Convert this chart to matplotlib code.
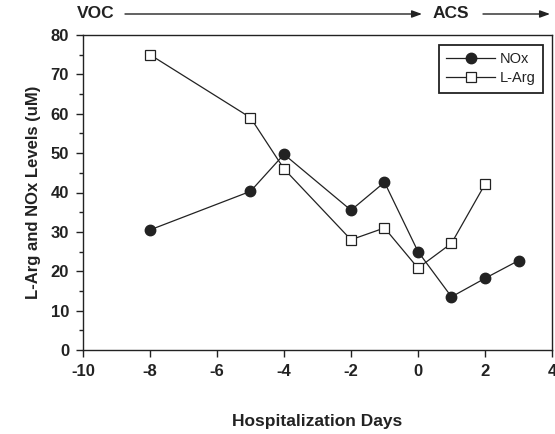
import matplotlib
matplotlib.use("Agg")
import matplotlib.pyplot as plt
from matplotlib.ticker import MultipleLocator

plt.rcParams['font.family'] = ['Liberation Sans', 'DejaVu Sans']
plt.rcParams['axes.unicode_minus'] = False

days_nox = [-8, -5, -4, -2, -1, 0, 1, 2, 3]
nox = [30.5, 40.3, 49.7, 35.5, 42.6, 25.0, 13.5, 18.2, 22.7]
days_larg = [-8, -5, -4, -2, -1, 0, 1, 2]
larg = [75.0, 59.0, 46.0, 28.0, 31.0, 20.8, 27.1, 42.1]

xticks = [-10, -8, -6, -4, -2, 0, 2, 4]
yticks = [0, 10, 20, 30, 40, 50, 60, 70, 80]

ink = '#222222'
W, H = 555, 434
fig = plt.figure(figsize=(W / 100, H / 100), dpi=100)
ax = fig.add_axes([83 / W, 1 - 350 / H, (552 - 83) / W, (350 - 35) / H])

ax.plot(days_nox, nox, '-o', color=ink, lw=0.9, ms=7.5, mfc=ink, mec=ink, label='NOx')
ax.plot(days_larg, larg, '-s', color=ink, lw=0.9, ms=7.5, mfc='white', mec=ink, mew=0.9, label='L-Arg')

ax.set_xlim(-10, 4)
ax.set_ylim(0, 80)
ax.set_xticks(xticks)
ax.set_yticks(yticks)
ax.yaxis.set_minor_locator(MultipleLocator(5))
ax.tick_params(which='major', direction='out', length=5, width=1, color=ink, pad=5,
               labelsize=12, labelcolor=ink)
ax.tick_params(which='minor', direction='out', length=3, width=1, color=ink)
ax.tick_params(top=False, right=False)
for lab in ax.get_xticklabels() + ax.get_yticklabels():
    lab.set_fontweight('bold')
for s in ax.spines.values():
    s.set_color(ink)
    s.set_linewidth(1.0)

ax.set_xlabel('Hospitalization Days', fontsize=12.5, fontweight='bold', color=ink, labelpad=25)
ax.set_ylabel('L-Arg and NOx Levels (uM)', fontsize=12, fontweight='bold', color=ink, labelpad=7)

leg = ax.legend(loc='upper right', bbox_to_anchor=(543 / W, 1 - 45 / H),
                bbox_transform=fig.transFigure, fancybox=False, framealpha=1,
                edgecolor=ink, fontsize=10.5, handlelength=3.4, borderaxespad=0,
                labelspacing=0.35, handletextpad=0.3, borderpad=0.5)
leg.get_frame().set_linewidth(1.3)
for t in leg.get_texts():
    t.set_color(ink)

fig.text(77 / W, 1 - 14 / H, 'VOC', ha='left', va='center', fontsize=12.5,
         fontweight='bold', color=ink)
fig.text(433 / W, 1 - 14 / H, 'ACS', ha='left', va='center', fontsize=12.5,
         fontweight='bold', color=ink)
arrow = dict(arrowstyle='-|>,head_length=0.6,head_width=0.22', color=ink, lw=1.0,
             shrinkA=0, shrinkB=0)
ax.annotate('', xy=(422 / W, 1 - 14 / H), xytext=(125 / W, 1 - 14 / H),
            xycoords='figure fraction', textcoords='figure fraction', arrowprops=arrow)
ax.annotate('', xy=(550 / W, 1 - 14 / H), xytext=(483 / W, 1 - 14 / H),
            xycoords='figure fraction', textcoords='figure fraction', arrowprops=arrow,
            annotation_clip=False)

fig.savefig('out.png', dpi=100)
